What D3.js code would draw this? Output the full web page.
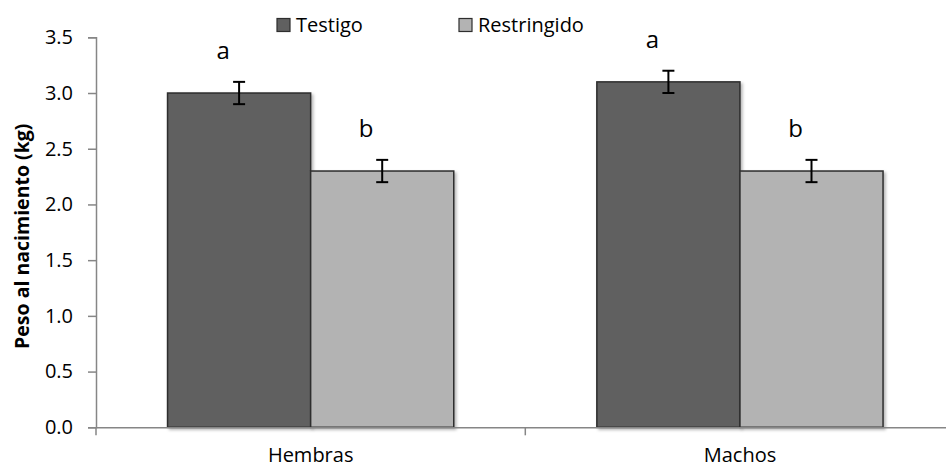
<!DOCTYPE html>
<html>
<head>
<meta charset="utf-8">
<script src="https://cdn.jsdelivr.net/npm/d3@7"></script>
<style>
  html, body { margin: 0; padding: 0; background: #fff; }
  svg { display: block; font-family: "Open Sans", "Liberation Sans", sans-serif; }
</style>
</head>
<body>
<svg id="chart" width="946" height="468"></svg>
<script>
// Birth weight by sex and treatment
const categories = ["Hembras", "Machos"];
const seriesNames = ["Testigo", "Restringido"];
const testigoValues = [3.0, 3.1];
const restringidoValues = [2.3, 2.3];
const testigoErrors = [0.1, 0.1];
const restringidoErrors = [0.1, 0.1];
const testigoLetters = ["a", "a"];
const restringidoLetters = ["b", "b"];
const yTicks = [0, 0.5, 1.0, 1.5, 2.0, 2.5, 3.0, 3.5];
const yTitle = "Peso al nacimiento (kg)";

const seriesValues = [testigoValues, restringidoValues];
const seriesErrors = [testigoErrors, restringidoErrors];
const seriesLetters = [testigoLetters, restringidoLetters];
const fills = ["#606060", "#b3b3b3"];

const svg = d3.select("#chart");
const plot = { left: 96, top: 37.3, bottom: 427.3, right: 954.6 };

const defs = svg.append("defs");
const shadow = defs.append("filter").attr("id", "shadow")
  .attr("x", "-10%").attr("y", "-10%").attr("width", "130%").attr("height", "130%");
shadow.append("feDropShadow")
  .attr("dx", 2).attr("dy", 2).attr("stdDeviation", 1.8)
  .attr("flood-color", "#000").attr("flood-opacity", 0.28);

const x0 = d3.scaleBand().domain(categories).range([plot.left, plot.right])
  .paddingInner(0).paddingOuter(0);
const x1 = d3.scaleBand().domain(seriesNames).range([0, x0.bandwidth()])
  .paddingInner(0).paddingOuter(0.5);
const y = d3.scaleLinear().domain([0, 3.5]).range([plot.bottom, plot.top]);

// One record per bar
const rows = [];
categories.forEach((c, i) => {
  seriesNames.forEach((s, j) => {
    rows.push({ cat: c, series: s, idx: j, value: seriesValues[j][i],
      err: seriesErrors[j][i], letter: seriesLetters[j][i] });
  });
});

// Y axis
const yAxis = d3.axisLeft(y).tickValues(yTicks).tickFormat(d3.format(".1f"))
  .tickSize(8).tickPadding(15);
const gy = svg.append("g").attr("transform", `translate(${plot.left},0)`).call(yAxis);
gy.select(".domain").attr("stroke", "#868686").attr("stroke-width", 1.5);
gy.selectAll(".tick line").attr("stroke", "#868686").attr("stroke-width", 1.5);
gy.selectAll(".tick text").attr("fill", "#000").style("font-size", "20px")
  .style("font-family", "'Open Sans', sans-serif");

// Bars
const bars = svg.append("g");
bars.selectAll("rect").data(rows).join("rect")
  .attr("x", d => x0(d.cat) + x1(d.series))
  .attr("y", d => y(d.value))
  .attr("width", x1.bandwidth())
  .attr("height", d => y(0) - y(d.value))
  .attr("fill", d => fills[d.idx])
  .attr("stroke", "#2e2e2e")
  .attr("stroke-width", 1.5)
  .attr("filter", "url(#shadow)");

// X axis
const xAxis = d3.axisBottom(x0).tickSize(0).tickPadding(0);
const gx = svg.append("g").attr("transform", `translate(0,${plot.bottom})`).call(xAxis);
gx.select(".domain").attr("stroke", "#868686").attr("stroke-width", 1.5);
gx.selectAll(".tick text").attr("fill", "#000").attr("y", 35).attr("dy", 0)
  .style("font-size", "20px").style("font-family", "'Open Sans', sans-serif");
// Category separators
const bounds = [plot.left, plot.left + x0.step(), plot.left + 2 * x0.step()];
svg.append("g").selectAll("line").data(bounds).join("line")
  .attr("x1", d => d).attr("x2", d => d)
  .attr("y1", plot.bottom).attr("y2", plot.bottom + 8)
  .attr("stroke", "#868686").attr("stroke-width", 1.5);

// Error bars
const eb = svg.append("g").attr("stroke", "#000").attr("stroke-width", 2);
rows.forEach(d => {
  const cx = x0(d.cat) + x1(d.series) + x1.bandwidth() / 2;
  const yt = y(d.value + d.err), yb = y(d.value - d.err);
  eb.append("line").attr("x1", cx).attr("x2", cx).attr("y1", yt).attr("y2", yb);
  eb.append("line").attr("x1", cx - 6).attr("x2", cx + 6).attr("y1", yt).attr("y2", yt);
  eb.append("line").attr("x1", cx - 6).attr("x2", cx + 6).attr("y1", yb).attr("y2", yb);
});

// Significance letters
svg.append("g").selectAll("text").data(rows).join("text")
  .attr("x", d => x0(d.cat) + x1(d.series) + x1.bandwidth() / 2 - 16)
  .attr("y", d => y(d.value + d.err) - 23)
  .attr("text-anchor", "middle")
  .style("font-size", "24px")
  .attr("fill", "#000")
  .text(d => d.letter);

// Y title
svg.append("text")
  .attr("transform", `translate(29,${(plot.top + plot.bottom) / 2 + 4}) rotate(-90)`)
  .attr("text-anchor", "middle")
  .style("font-size", "19.5px").style("font-weight", "bold")
  .attr("fill", "#000")
  .text(yTitle);

// Legend
const legendX = [277, 459];
const legend = svg.append("g");
seriesNames.forEach((s, j) => {
  legend.append("rect").attr("x", legendX[j]).attr("y", 18.5)
    .attr("width", 13).attr("height", 13)
    .attr("fill", fills[j]).attr("stroke", "#2e2e2e").attr("stroke-width", 1.2);
  legend.append("text").attr("x", legendX[j] + 19).attr("y", 32)
    .style("font-size", "20px").attr("fill", "#000").text(s);
});
</script>
</body>
</html>
